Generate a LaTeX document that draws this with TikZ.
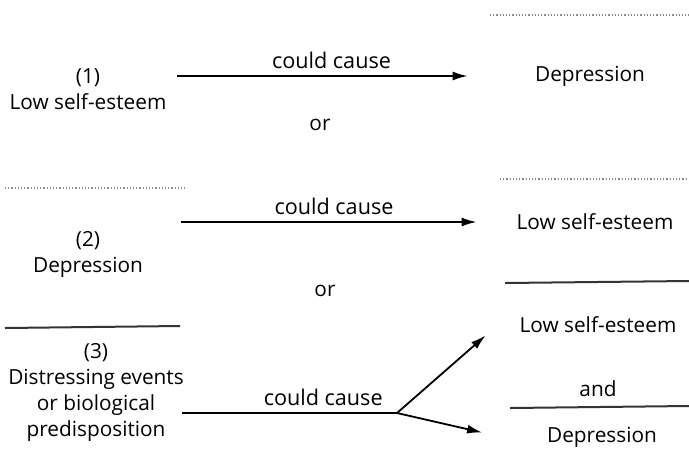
\documentclass[tikz,border=0pt]{standalone}
\usepackage{fontspec}
\setmainfont{Open Sans}
\usetikzlibrary{arrows.meta}

\begin{document}
\begin{tikzpicture}[x=0.5pt,y=-0.5pt,
            every node/.style={font=\fontsize{10.4}{13}\selectfont},
            cause/.style={align=center,minimum width=85pt,inner sep=1pt},
            effect/.style={align=center,minimum width=100pt,inner sep=1pt},
            lab/.style={above,inner sep=3pt,font=\fontsize{10.8}{13}\selectfont},
            link/.style={draw,-{Latex[length=7.5pt,width=4.5pt]},line width=.9pt},
            rule/.style={draw=black!80,line width=1pt},
            faintrule/.style={draw=black!45,line width=.6pt,densely dotted}
          ]
          \useasboundingbox (0,0) rectangle (689,450);

          %rules
          \path[faintrule] (490,15) -- (689,15);
          \path[faintrule] (5,188) -- (185,188);
          \path[faintrule] (500,179) -- (689,179);
          \path[rule] (505,283) -- (689,281);
          \path[rule] (5,328) -- (180,326);
          \path[rule] (510,408) -- (689,406);

          %causes
          \node[cause] (1) at (88,89) {(1)\\Low self-esteem};
          \node[cause] (2) at (88,254) {(2)\\Depression};
          \node[cause] (3) at (96,392) {(3)\\Distressing events\\or biological\\predisposition};

          %effects
          \node[effect] (r1) at (590,76) {Depression};
          \node[effect] (r2) at (595,222) {Low self-esteem};
          \node[effect] (r3a) at (598,325) {Low self-esteem};
          \node[below of = r3a,node distance=32pt] (and) {and};
          \node[effect] (r3b) at (602,437) {Depression};

          %or
          \node (or1) at (320,125) {or};
          \node (or2) at (325,291) {or};

          %arrows
          \coordinate (fork) at (397,413);
          \path[link,shorten <=2pt,shorten >=11pt]
          (1.east |- r1.west) -- node[lab] {could cause} (r1.west);
          \path[link,shorten <=4pt,shorten >=9pt]
          (2.east |- r2.west) -- node[lab] {could cause} (r2.west);
          \path[draw,line width=.9pt,shorten <=-2pt]
          (3.east |- fork) -- node[lab,pos=.65] {could cause} (fork);
          \path[link,shorten >=8pt] (fork) -- (r3a.west);
          \path[link,shorten >=10pt] (fork) -- (r3b.west);

      \end{tikzpicture}
\end{document}
